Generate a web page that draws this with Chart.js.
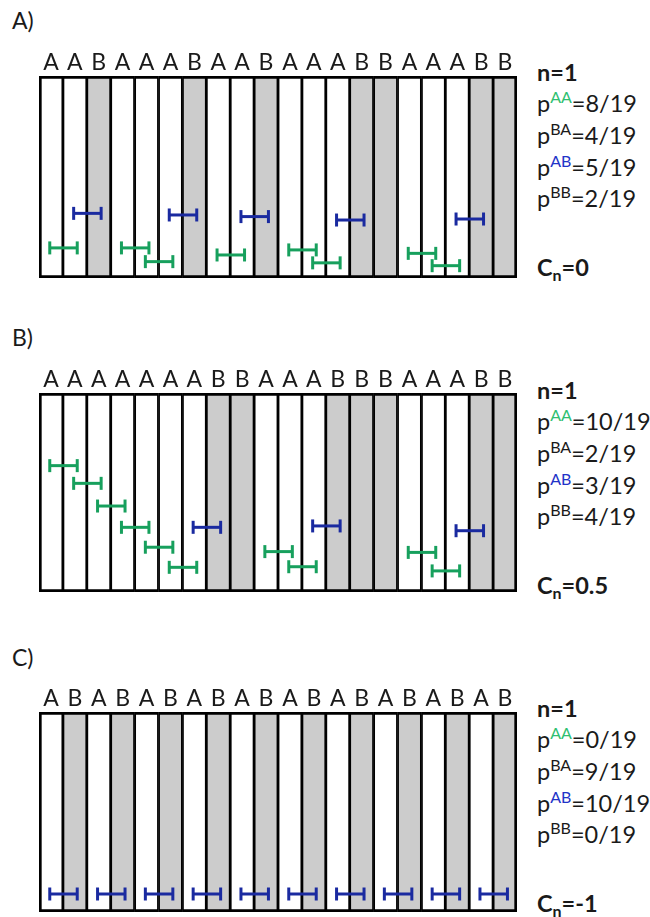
<!DOCTYPE html>
<html>
<head>
<meta charset="utf-8">
<script src="https://cdn.jsdelivr.net/npm/chart.js@4.4.1/dist/chart.umd.min.js"></script>
<style>
  body { margin: 0; width: 650px; height: 917px; background: #fff; position: relative; overflow: hidden;
         font-family: Lato, "Open Sans", sans-serif; color: #1a1a1a; }
  .label { position: absolute; left: 12px; font-size: 23px; line-height: 26px; }
  .wrap { position: absolute; left: 0; width: 530px; }
  .stats { position: absolute; left: 537px; width: 113px; height: 240px; font-size: 23.5px; }
  .stats div { position: absolute; left: 0; white-space: nowrap; line-height: 26px; }
  .sup { font-size: 16px; position: relative; top: -9px; }
  .sub { font-size: 16px; position: relative; top: 5px; }
  .aa { color: #2fbf71; }
  .ab { color: #2233c8; }
  b { font-weight: 700; }
</style>
</head>
<body>

<div class="label" style="top:7px">A)</div>
<div class="label" style="top:324px">B)</div>
<div class="label" style="top:644px">C)</div>

<div class="wrap" style="top:40px;height:242px"><canvas id="chartA"></canvas></div>
<div class="wrap" style="top:357px;height:239px"><canvas id="chartB"></canvas></div>
<div class="wrap" style="top:676px;height:240px"><canvas id="chartC"></canvas></div>

<div class="stats" style="top:46px">
  <div style="top:13px"><b>n=1</b></div>
  <div style="top:44px">p<span class="sup aa">AA</span>=8/19</div>
  <div style="top:76px">p<span class="sup">BA</span>=4/19</div>
  <div style="top:108px">p<span class="sup ab">AB</span>=5/19</div>
  <div style="top:139px">p<span class="sup">BB</span>=2/19</div>
  <div style="top:208px"><b>C<span class="sub">n</span>=0</b></div>
</div>
<div class="stats" style="top:364px">
  <div style="top:13px"><b>n=1</b></div>
  <div style="top:44px">p<span class="sup aa">AA</span>=10/19</div>
  <div style="top:76px">p<span class="sup">BA</span>=2/19</div>
  <div style="top:108px">p<span class="sup ab">AB</span>=3/19</div>
  <div style="top:139px">p<span class="sup">BB</span>=4/19</div>
  <div style="top:208px"><b>C<span class="sub">n</span>=0.5</b></div>
</div>
<div class="stats" style="top:682px">
  <div style="top:13px"><b>n=1</b></div>
  <div style="top:44px">p<span class="sup aa">AA</span>=0/19</div>
  <div style="top:76px">p<span class="sup">BA</span>=9/19</div>
  <div style="top:108px">p<span class="sup ab">AB</span>=10/19</div>
  <div style="top:139px">p<span class="sup">BB</span>=0/19</div>
  <div style="top:208px"><b>C<span class="sub">n</span>=-1</b></div>
</div>

<script>
// sequences of states, one letter per column
const seqA = ["A","A","B","A","A","A","B","A","A","B","A","A","A","B","B","A","A","A","B","B"];
const seqB = ["A","A","A","A","A","A","A","B","B","A","A","A","B","B","B","A","A","A","B","B"];
const seqC = ["A","B","A","B","A","B","A","B","A","B","A","B","A","B","A","B","A","B","A","B"];

// markers: column where the step starts and its height in the box (0 = bottom, 100 = top)
const aaStartA = [0, 3, 4, 7, 10, 11, 15, 16];
const aaHeightA = [14.9, 14.9, 8.1, 11.4, 13.9, 7.5, 12.2, 6.1];
const abStartA = [1, 5, 8, 12, 17];
const abHeightA = [32.0, 31.2, 30.4, 28.7, 29.2];

const aaStartB = [0, 1, 2, 3, 4, 5, 9, 10, 15, 16];
const aaHeightB = [63.5, 54.6, 43.2, 32.5, 22.5, 12.4, 20.3, 12.7, 19.9, 10.6];
const abStartB = [6, 11, 17];
const abHeightB = [32.5, 33.2, 30.8];

const aaStartC = [];
const aaHeightC = [];
const abStartC = [0, 2, 4, 6, 8, 10, 12, 14, 16, 18];
const abHeightC = [9, 9, 9, 9, 9, 9, 9, 9, 9, 9];

const GREEN = "#17a05d";
const BLUE = "#1a2aa0";
const GRAY = "#cccccc";

function markerSets(starts, heights, color) {
  return starts.map(function (s, i) {
    return {
      type: "line",
      xAxisID: "xm",
      order: 0,
      data: [{ x: s - 0.05, y: heights[i] }, { x: s + 1.1, y: heights[i] }],
      borderColor: color,
      borderWidth: 3,
      pointStyle: "line",
      pointRotation: 90,
      pointRadius: 6.5,
      pointBorderWidth: 3,
      pointBorderColor: color,
      pointBackgroundColor: color,
      fill: false,
      tension: 0,
    };
  });
}

function makePanel(id, seq, aaStart, aaHeight, abStart, abHeight) {
  var ctx = document.getElementById(id).getContext("2d");
  var last = seq.length - 1;
  new Chart(ctx, {
    type: "bar",
    data: {
      labels: seq,
      datasets: [
        {
          order: 10,
          grouped: false,
          data: seq.map(function () { return 100; }),
          backgroundColor: seq.map(function (s) { return s === "B" ? GRAY : "#ffffff"; }),
          borderColor: "#000000",
          borderSkipped: false,
          borderWidth: function (c) {
            return {
              top: 3,
              bottom: 3,
              left: c.dataIndex === 0 ? 3 : 1.75,
              right: c.dataIndex === last ? 3 : 1.75,
            };
          },
          barPercentage: 1,
          categoryPercentage: 1,
        },
      ]
        .concat(markerSets(aaStart, aaHeight, GREEN))
        .concat(markerSets(abStart, abHeight, BLUE)),
    },
    options: {
      responsive: true,
      maintainAspectRatio: false,
      animation: false,
      layout: { autoPadding: false, padding: { left: 39, right: 13, top: 0, bottom: 4 } },
      plugins: { legend: { display: false }, tooltip: { enabled: false } },
      scales: {
        x: {
          position: "top",
          grid: { display: false, drawTicks: false },
          border: { display: false },
          ticks: {
            color: "#1a1a1a",
            font: { family: "Lato", size: 23 },
            padding: 0,
            autoSkip: false,
            maxRotation: 0,
          },
          afterFit: function (scale) { scale.height = 36; },
        },
        xm: { type: "linear", display: false, offset: false, min: -0.5, max: 19.5 },
        y: { display: false, min: 0, max: 100 },
      },
    },
  });
}

makePanel("chartA", seqA, aaStartA, aaHeightA, abStartA, abHeightA);
makePanel("chartB", seqB, aaStartB, aaHeightB, abStartB, abHeightB);
makePanel("chartC", seqC, aaStartC, aaHeightC, abStartC, abHeightC);
</script>
</body>
</html>
